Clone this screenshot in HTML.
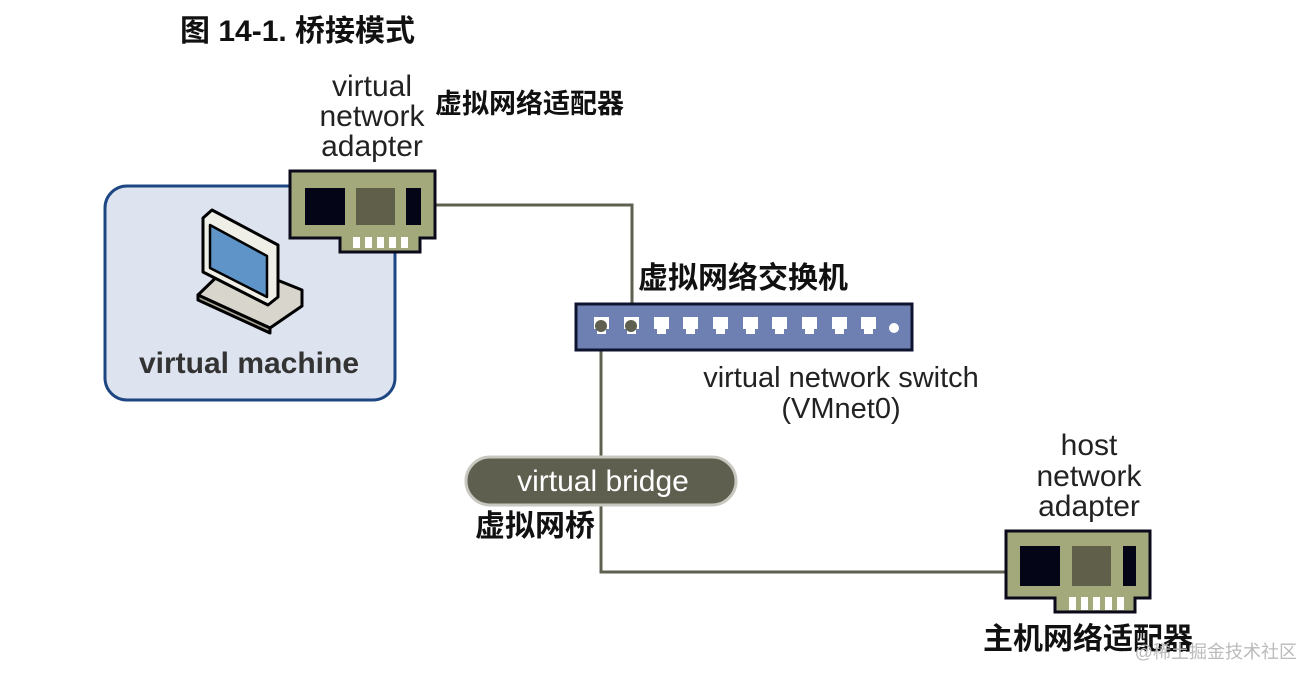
<!DOCTYPE html>
<html><head><meta charset="utf-8"><style>
body{margin:0;background:#fff;width:1302px;height:668px;overflow:hidden}
text{font-family:"Liberation Sans","Noto Sans CJK SC",sans-serif}
</style></head><body>
<svg width="1302" height="668" viewBox="0 0 1302 668" xmlns="http://www.w3.org/2000/svg">
<text x="180" y="41" font-size="30" font-weight="bold" fill="#111">图 14-1.  桥接模式</text>
<rect x="105" y="186" width="290" height="214" rx="22" fill="#dde3ef" stroke="#1d4683" stroke-width="3"/>
<text x="249" y="373" font-size="30" font-weight="bold" fill="#333" text-anchor="middle">virtual machine</text>
<g stroke="#000" stroke-width="3" stroke-linejoin="round">
<polygon points="198,295 270,328 302,306 302,290 232,262" fill="#d8d6cc"/>
<polygon points="198,295 270,328 270,333 198,300" fill="#a8a698"/>
<polygon points="203,218 212,210 278,245 278,297 268,305 203,272" fill="#efefe8"/>
<polygon points="210,225 267,256 267,297 210,268" fill="#5f94c8" stroke-width="2.5"/>
</g>
<polyline points="435,205 632,205 632,325" fill="none" stroke="#5f604f" stroke-width="3"/>
<polyline points="601,325 601,572 1006,572" fill="none" stroke="#5f604f" stroke-width="3"/>
<g>
<path d="M290,171 H435 V238 H420 V252 H340 V238 H290 Z" fill="#a3a97a" stroke="#0a0a1a" stroke-width="3"/>
<rect x="305" y="188" width="40" height="37" fill="#050518"/>
<rect x="356" y="188" width="39" height="37" fill="#60604a"/>
<rect x="406" y="188" width="15" height="37" fill="#050518"/>
<g fill="#fff"><rect x="353" y="237" width="7" height="11"/><rect x="365" y="237" width="7" height="11"/><rect x="377" y="237" width="7" height="11"/><rect x="389" y="237" width="7" height="11"/><rect x="401" y="237" width="7" height="11"/></g>
</g>
<text x="372" y="96" font-size="30" fill="#222" text-anchor="middle">virtual</text>
<text x="372" y="126" font-size="30" fill="#222" text-anchor="middle">network</text>
<text x="372" y="156" font-size="30" fill="#222" text-anchor="middle">adapter</text>
<text x="435" y="113" font-size="27" font-weight="bold" fill="#111">虚拟网络适配器</text>
<text x="638" y="288" font-size="30" font-weight="bold" fill="#111">虚拟网络交换机</text>
<rect x="576" y="304" width="336" height="46" fill="#6e7fb1" stroke="#0e1430" stroke-width="3"/>
<g fill="#fff">
<g id="p"><rect x="594" y="317" width="15" height="12"/><rect x="597" y="329" width="9" height="5"/></g>
<use href="#p" x="30"/><use href="#p" x="60"/><use href="#p" x="89"/><use href="#p" x="119"/><use href="#p" x="149"/><use href="#p" x="178"/><use href="#p" x="208"/><use href="#p" x="238"/><use href="#p" x="267"/>
<circle cx="894" cy="328" r="5"/>
</g>
<circle cx="601" cy="326" r="6" fill="#5f604f"/>
<circle cx="631" cy="326" r="6" fill="#5f604f"/>
<text x="841" y="387" font-size="29" fill="#222" text-anchor="middle">virtual network switch</text>
<text x="841" y="418" font-size="29" fill="#222" text-anchor="middle">(VMnet0)</text>
<rect x="466" y="457" width="270" height="48" rx="24" fill="#5e5f4e" stroke="#c8c8c0" stroke-width="3"/>
<text x="603" y="491" font-size="30" fill="#fff" text-anchor="middle">virtual bridge</text>
<text x="475" y="536" font-size="30" font-weight="bold" fill="#111">虚拟网桥</text>
<path d="M1006,531 H1150 V598 H1135 V612 H1055 V598 H1006 Z" fill="#a3a97a" stroke="#0a0a1a" stroke-width="3"/>
<rect x="1020" y="546" width="40" height="40" fill="#050518"/>
<rect x="1072" y="546" width="39" height="40" fill="#60604a"/>
<rect x="1123" y="546" width="13" height="40" fill="#050518"/>
<g fill="#fff"><rect x="1069" y="597" width="7" height="13"/><rect x="1081" y="597" width="7" height="13"/><rect x="1093" y="597" width="7" height="13"/><rect x="1105" y="597" width="7" height="13"/><rect x="1117" y="597" width="7" height="13"/></g>
<text x="1089" y="455" font-size="30" fill="#222" text-anchor="middle">host</text>
<text x="1089" y="486" font-size="30" fill="#222" text-anchor="middle">network</text>
<text x="1089" y="516" font-size="30" fill="#222" text-anchor="middle">adapter</text>
<text x="983" y="649" font-size="30" font-weight="bold" fill="#111">主机网络适配器</text>
<text x="1297" y="658" font-size="18" fill="#bbb" text-anchor="end">@稀土掘金技术社区</text>
</svg>
</body></html>
